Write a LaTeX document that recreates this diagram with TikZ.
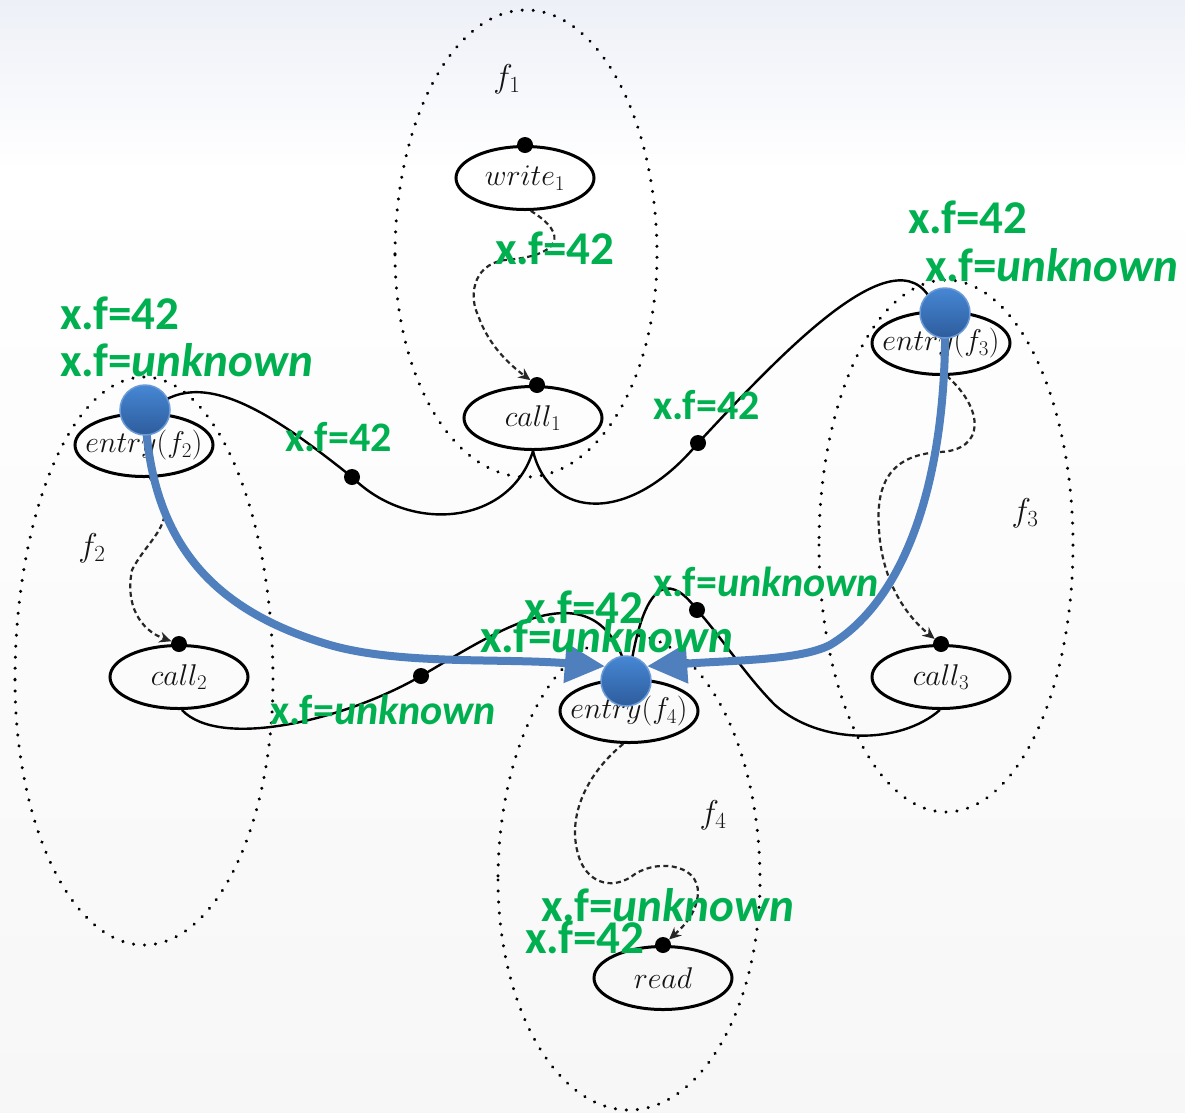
\RequirePackage{fix-cm}
\documentclass[tikz,border=0pt]{standalone}
\usepackage{fontspec}
\newfontfamily\callout{Carlito}
\usetikzlibrary{arrows.meta,shapes.geometric}
\definecolor{xgreen}{HTML}{00B050}
\definecolor{flowblue}{HTML}{4F7FBD}
\definecolor{ballhi}{HTML}{4687D4}
\definecolor{balllo}{HTML}{2D5C9C}
\definecolor{ballrim}{HTML}{6A9AD8}
\definecolor{inkgray}{HTML}{141414}
\definecolor{bgtop}{HTML}{EDF0F7}
\definecolor{bgbot}{HTML}{F7F7F7}
\pgfdeclarelayer{bg}
\pgfdeclarelayer{mid}
\pgfsetlayers{bg,mid,main}

\begin{document}
\begin{tikzpicture}[x=1pt,y=-1pt,
  proc/.style={ellipse, draw=black, line width=3pt, minimum width=138pt,
    minimum height=63pt, inner sep=0pt,
    label={[proctext]center:#1}},
  proctext/.style={text=inkgray, inner sep=0pt,
    font=\fontsize{30}{31}\selectfont},
  cluster/.style={draw=black, line width=3.4pt, line cap=round,
    dash pattern=on 0.01pt off 11pt},
  flabel/.style={text=inkgray, inner sep=0pt, font=\fontsize{33}{35}\selectfont},
  dot/.style={circle, fill=black, inner sep=0pt, minimum size=16pt},
  call/.style={draw=black, line width=2.4pt},
  flow/.style={draw=black!85, line width=2.2pt, dash pattern=on 5pt off 3.5pt,
    -{Stealth[length=12pt,width=11pt]}},
  ball/.style={circle, minimum size=50pt, inner sep=0pt, draw=ballrim,
    line width=1.5pt, top color=ballhi, bottom color=balllo},
  summary/.style={draw=flowblue, line width=8pt,
    -{Triangle[length=40pt,width=38pt]}},
  bigfact/.style={text=xgreen, inner sep=0pt, anchor=west,
    font=\fontsize{47}{50}\selectfont\callout\bfseries},
  smallfact/.style={text=xgreen, inner sep=0pt, anchor=west,
    font=\fontsize{42}{45}\selectfont\callout\bfseries},
]
\useasboundingbox (0,0) rectangle (1185,1112);

\begin{pgfonlayer}{bg}
  % backdrop
  \fill[top color=bgtop, bottom color=white] (0,0) rectangle (1185,170);
  \fill[top color=white, bottom color=bgbot] (0,170) rectangle (1185,1112);

  % procedure clusters
  \draw[cluster] (395,255) arc[start angle=180,end angle=0,x radius=131,y radius=222]
                           arc[start angle=0,end angle=-180,x radius=131,y radius=245];
  \draw[cluster] (15,680) arc[start angle=180,end angle=0,x radius=129,y radius=265]
                          arc[start angle=0,end angle=-180,x radius=129,y radius=303];
  \draw[cluster] (819,545) arc[start angle=180,end angle=0,x radius=127,y radius=267]
                           arc[start angle=0,end angle=-180,x radius=127,y radius=265];
  \draw[cluster] (498,880) arc[start angle=180,end angle=0,x radius=131,y radius=230]
                           arc[start angle=0,end angle=-180,x radius=131,y radius=245];

  \node[flabel] (lf1) at (507,79) {$f_1$};
  \node[flabel] (lf2) at (92,548) {$f_2$};
  \node[flabel] (lf3) at (1025,513) {$f_3$};
  \node[flabel] (lf4) at (713,815) {$f_4$};

  % program points
  \node[proc={$write_1$}] (write1) at (525,178) {};
  \node[proc={$call_1$}] (call1)  at (533,418) {};
  \node[proc={$entry(f_2)$}] (entry2) at (144,445) {};
  \node[proc={$entry(f_3)$}] (entry3) at (941,343) {};
  \node[proc={$call_2$}] (call2)  at (179,677) {};
  \node[proc={$call_3$}] (call3)  at (941,677) {};
  \node[proc={$entry(f_4)$}] (entry4) at (629,711) {};
  \node[proc={$read$}] (read)   at (663,978) {};

  % observation dots
  \node[dot] (dw1) at (write1.north) {};
  \node[dot] (dc1) at ([xshift=4pt]call1.north) {};
  \node[dot] (dc2) at (call2.north) {};
  \node[dot] (dc3) at (call3.north) {};
  \node[dot] (drd) at (read.north) {};
  \node[dot] (e1) at (352,477) {};
  \node[dot] (e2) at (698,443) {};
  \node[dot] (e3) at (421,676) {};
  \node[dot] (e4) at (697,610) {};

  % intraprocedural flow
  \draw[flow] (write1.-80) .. controls (570,235) and (560,256) .. (505,260)
              .. controls (470,265) and (470,300) .. (478,315)
              .. controls (488,345) and (510,365) .. (dc1);
  \draw[flow] (entry2.-80) .. controls (185,520) and (150,535) .. (132,570)
              .. controls (125,605) and (140,630) .. (dc2);
  \draw[flow] (entry3.-80) .. controls (985,410) and (985,450) .. (940,452)
              .. controls (885,455) and (876,490) .. (879,530)
              .. controls (882,580) and (905,615) .. (dc3);
  \draw[flow] (entry4.-100) .. controls (585,775) and (565,820) .. (580,860)
              .. controls (590,885) and (615,890) .. (635,874)
              .. controls (660,858) and (705,865) .. (697,900)
              .. controls (694,915) and (685,925) .. (drd);

  % call and return edges
  \draw[call] (call1.south) .. controls (510,525) and (410,535) .. (e1.center)
              .. controls (280,420) and (200,360) .. (entry2.80);
  \draw[call] (call1.south) .. controls (550,520) and (630,525) .. (e2.center)
              .. controls (780,355) and (905,220) .. (entry3.100);
  \draw[call] (call2.-85) .. controls (220,750) and (345,720) .. (e3.center)
              .. controls (500,630) and (600,560) .. (entry4.north);
  \draw[call] (call3.-92) .. controls (900,745) and (820,745) .. (775,705)
              .. controls (745,675) and (720,635) .. (e4.center)
              .. controls (675,580) and (645,565) .. (entry4.north);
\end{pgfonlayer}

% summary points
\node[ball] (bal2) at (145,410) {};
\node[ball] (bal3) at (945,313) {};
\node[ball] (bal4) at (626,681) {};

\begin{pgfonlayer}{mid}
  \draw[summary] (bal2.center) .. controls (150,540) and (210,610) .. (330,645)
                 .. controls (400,665) and (500,658) .. (bal4.145);
  \draw[summary] (bal3.center) .. controls (948,480) and (905,600) .. (830,645)
                 .. controls (800,660) and (740,660) .. (bal4.35);
\end{pgfonlayer}

% facts
\node[bigfact] (t1) at (495,248) {x.f=42};
\node[bigfact] (t2) at (60,313) {x.f=42};
\node[bigfact] (t3) at (60,360) {x.f=\textit{unknown}};
\node[bigfact] (t4) at (908,217) {x.f=42};
\node[bigfact] (t5) at (925,265) {x.f=\textit{unknown}};
\node[bigfact] (t6) at (524,607) {x.f=42};
\node[bigfact] (t7) at (480,636) {x.f=\textit{unknown}};
\node[bigfact] (t8) at (541,905) {x.f=\textit{unknown}};
\node[bigfact] (t9) at (525,937) {x.f=42};
\node[smallfact] (s1) at (285,437) {x.f=42};
\node[smallfact] (s2) at (653,405) {x.f=42};
\node[smallfact] (s3) at (653,582) {x.f=\textit{unknown}};
\node[smallfact] (s4) at (270,710) {x.f=\textit{unknown}};
\end{tikzpicture}
\end{document}
